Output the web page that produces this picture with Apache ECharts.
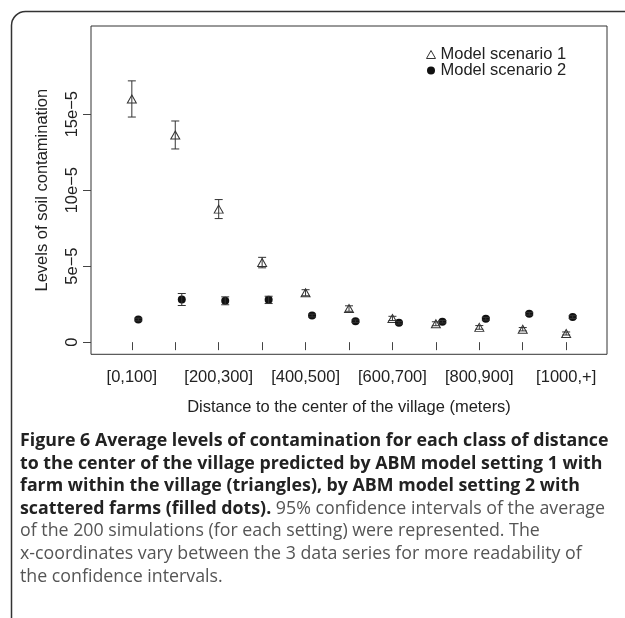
<!DOCTYPE html>
<html>
<head>
<meta charset="utf-8">
<script src="https://cdn.jsdelivr.net/npm/echarts@6/dist/echarts.min.js"></script>
<style>
html,body{margin:0;padding:0;background:#fff;}
#chart{width:625px;height:618px;}
</style>
</head>
<body>
<div id="chart"></div>
<script>
// ---- data (soil contamination, in units of 1e-5) ----
const categories = ['[0,100]','[100,200]','[200,300]','[300,400]','[400,500]','[500,600]','[600,700]','[700,800]','[800,900]','[900,1000]','[1000,+]'];
const xLabelIndex = [1, 3, 5, 7, 9, 11];
const yTickValues = [0, 5, 10, 15];
const yTickLabels = ['0', '5e\u22125', '10e\u22125', '15e\u22125'];
const seriesNames = ['Model scenario 1', 'Model scenario 2'];

const s1Mean = [16.0, 13.63, 8.75, 5.24, 3.25, 2.21, 1.56, 1.21, 0.97, 0.85, 0.57];
const s1Low  = [14.81, 12.71, 8.13, 4.89, 3.05, 2.03, 1.42, 1.08, 0.85, 0.74, 0.47];
const s1High = [17.19, 14.55, 9.38, 5.58, 3.45, 2.39, 1.70, 1.34, 1.09, 0.96, 0.67];

const s2Mean = [1.49, 2.81, 2.72, 2.79, 1.75, 1.38, 1.27, 1.34, 1.54, 1.87, 1.65];
const s2Low  = [1.40, 2.41, 2.46, 2.54, 1.66, 1.30, 1.19, 1.26, 1.45, 1.78, 1.56];
const s2High = [1.58, 3.20, 2.98, 3.02, 1.84, 1.46, 1.35, 1.42, 1.63, 1.96, 1.74];

const captionLines = [
  [['b', 'Figure 6 Average levels of contamination for each class of distance']],
  [['b', 'to the center of the village predicted by ABM model setting 1 with']],
  [['b', 'farm within the village (triangles), by ABM model setting 2 with']],
  [['b', 'scattered farms (filled dots).'], ['r', ' 95% confidence intervals of the average']],
  [['r', 'of the 200 simulations (for each setting) were represented. The']],
  [['r', 'x-coordinates vary between the 3 data series for more readability of']],
  [['r', 'the confidence intervals.']]
];

// ---- chart ----
const dotOffset = 0.15;
const FONT = 'Liberation Sans';
const INK = '#222';

const s1Points = categories.map((c, i) => [i + 1, s1Mean[i]]);
const s1Err = categories.map((c, i) => [i + 1, s1Low[i], s1High[i]]);
const s2Points = categories.map((c, i) => [i + 1 + dotOffset, s2Mean[i]]);
const s2Err = categories.map((c, i) => [i + 1 + dotOffset, s2Low[i], s2High[i]]);

function errorBar(params, api) {
  const x = api.value(0), lo = api.value(1), hi = api.value(2);
  const a = api.coord([x, lo]), b = api.coord([x, hi]);
  const w = 4;
  const st = { stroke: '#333', lineWidth: 1 };
  return {
    type: 'group',
    children: [
      { type: 'line', shape: { x1: a[0], y1: a[1], x2: b[0], y2: b[1] }, style: st },
      { type: 'line', shape: { x1: a[0] - w, y1: a[1], x2: a[0] + w, y2: a[1] }, style: st },
      { type: 'line', shape: { x1: b[0] - w, y1: b[1], x2: b[0] + w, y2: b[1] }, style: st }
    ]
  };
}

const captionGraphics = captionLines.map((segs, k) => ({
  type: 'text',
  left: 20,
  top: 432 + k * 22.6,
  style: {
    text: segs.map(s => '{' + s[0] + '|' + s[1] + '}').join(''),
    rich: {
      b: { fontFamily: 'Open Sans', fontWeight: 'bold', fontSize: 17.8, fill: '#222', lineHeight: 22 },
      r: { fontFamily: 'Open Sans', fontWeight: 'normal', fontSize: 17.8, fill: '#555', lineHeight: 22 }
    }
  }
}));

const chart = echarts.init(document.getElementById('chart'), null, { renderer: 'canvas' });
chart.setOption({
  animation: false,
  backgroundColor: '#fff',
  textStyle: { fontFamily: FONT },
  grid: { left: 91, top: 26, right: 18, bottom: 618 - 354.3, show: true, borderColor: '#333', borderWidth: 1, containLabel: false },
  legend: {
    show: true,
    orient: 'vertical',
    left: 421,
    top: 41,
    itemGap: -1,
    itemWidth: 9,
    itemHeight: 8,
    textStyle: { fontFamily: FONT, fontSize: 16.5, color: INK, lineHeight: 15 },
    data: [
      { name: seriesNames[0], icon: 'triangle', itemStyle: { color: '#fff', borderColor: '#333', borderWidth: 1 } },
      { name: seriesNames[1], icon: 'circle', itemStyle: { color: '#111', borderWidth: 0 } }
    ]
  },
  xAxis: {
    type: 'value',
    min: 0.06,
    max: 11.94,
    name: 'Distance to the center of the village (meters)',
    nameLocation: 'middle',
    nameGap: 45,
    nameTextStyle: { fontFamily: FONT, fontSize: 16.5, color: INK },
    axisLine: { show: false },
    splitLine: { show: false },
    axisTick: { show: true, customValues: categories.map((c, i) => i + 1), length: 8, lineStyle: { color: '#444' } },
    axisLabel: {
      customValues: xLabelIndex,
      formatter: v => categories[Math.round(v) - 1],
      fontFamily: FONT, fontSize: 16.5, color: INK, margin: 15
    }
  },
  yAxis: {
    type: 'value',
    min: -0.8,
    max: 20.8,
    name: 'Levels of soil contamination',
    nameLocation: 'middle',
    nameRotate: 90,
    nameGap: 40,
    nameTextStyle: { fontFamily: FONT, fontSize: 16.5, color: INK },
    axisLine: { show: false },
    splitLine: { show: false },
    axisTick: { show: true, customValues: yTickValues, length: 8, lineStyle: { color: '#444' } },
    axisLabel: {
      customValues: yTickValues,
      formatter: v => yTickLabels[yTickValues.indexOf(Math.round(v))],
      rotate: 90,
      fontFamily: FONT, fontSize: 16.5, color: INK, margin: 10
    }
  },
  graphic: [
    { type: 'rect', left: 9, top: 9, shape: { width: 700, height: 700, r: 14 }, style: { fill: 'none', stroke: '#333', lineWidth: 1.5 }, z: -10 }
  ].concat(captionGraphics),
  series: [
    {
      name: seriesNames[0], type: 'scatter', data: s1Points,
      symbol: 'triangle', symbolSize: [9, 8],
      itemStyle: { color: '#fff', borderColor: '#333', borderWidth: 1, opacity: 1 }, z: 3
    },
    {
      name: 'err1', type: 'custom', data: s1Err, renderItem: errorBar,
      encode: { x: 0, y: [1, 2] }, z: 4, silent: true
    },
    {
      name: seriesNames[1], type: 'scatter', data: s2Points,
      symbol: 'circle', symbolSize: 8,
      itemStyle: { color: '#111', opacity: 1 }, z: 3
    },
    {
      name: 'err2', type: 'custom', data: s2Err, renderItem: errorBar,
      encode: { x: 0, y: [1, 2] }, z: 4, silent: true
    }
  ]
});
</script>
</body>
</html>
